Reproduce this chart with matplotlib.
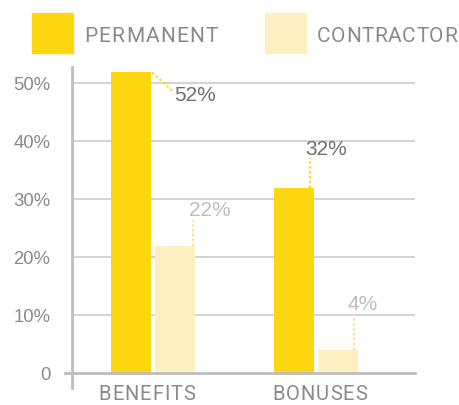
import matplotlib
matplotlib.use("Agg")
import matplotlib.pyplot as plt
import numpy as np
from matplotlib.patches import Rectangle

# ---- data ----
categories = ["BENEFITS", "BONUSES"]
series_names = ["PERMANENT", "CONTRACTOR"]
permanent = [52, 32]
contractor = [22, 4]
yticks = [0, 10, 20, 30, 40, 50]
ytick_labels = ["0", "10%", "20%", "30%", "40%", "50%"]

# ---- style ----
c_perm = "#FCD60E"
c_cont = "#FCF0C2"
c_grid = "#C8C8C8"
c_axis = "#BDBDBD"
c_tick = "#8A8A8A"
c_dark = "#707070"
c_light = "#BDBDBD"
din = ["Roboto", "DejaVu Sans"]
ari = ["Liberation Sans", "DejaVu Sans"]

fig = plt.figure(figsize=(4.6, 4.05), dpi=100)
ax = fig.add_axes([72 / 460, 17 / 405, 343 / 460, 321 / 405])
ax.set_xlim(-0.5, 1.61)
ax.set_ylim(-2.55, 52.8)
renderer = fig.canvas.get_renderer()


def char_widths(s, **kw):
    widths = []
    for ch in s:
        t = fig.text(0, 0, ch, **kw)
        widths.append(t.get_window_extent(renderer).width)
        t.remove()
    return widths


def draw_tracked(x_px, y_base_px, s, width_px, ha="left", **kw):
    """Letter-spaced text, placed in figure pixels, spread to width_px."""
    widths = char_widths(s, **kw)
    tr = (width_px - sum(widths)) / (len(s) - 1)
    start = x_px if ha == "left" else x_px - width_px / 2
    cx = start
    for ch, wd in zip(s, widths):
        fig.text(cx / 460, (405 - y_base_px) / 405, ch, ha="left", va="baseline", **kw)
        cx += wd + tr


x = np.arange(len(categories))
w = 0.246
gap = 0.0246
b1 = ax.bar(x - w / 2 - gap / 2, permanent, w, color=c_perm, zorder=3)
b2 = ax.bar(x + w / 2 + gap / 2, contractor, w, color=c_cont, zorder=3)

for t in yticks[1:]:
    ax.axhline(t, color=c_grid, lw=1.1, zorder=1)
ax.plot([-0.545, 1.61], [0, 0], color=c_axis, lw=2, zorder=4, clip_on=False)
ax.plot([-0.5, -0.5], [-2.55, 52.8], color=c_axis, lw=2, zorder=4, clip_on=False)

for s in ax.spines.values():
    s.set_visible(False)
ax.set_xticks([])
ax.set_yticks(yticks)
ax.set_yticklabels(ytick_labels, fontfamily=ari, fontsize=13.3, color=c_tick)
ax.tick_params(axis="y", length=0, pad=15.5)

# category labels (letter-spaced), centred under each group
cat_centers_px = [ax.transData.transform((xi, 0))[0] for xi in x]
cat_shift = [-6.5, 4]
cat_base = [400, 400]
cat_width = [96, 94]
for c, cx, sh, yb, wd in zip(categories, cat_centers_px, cat_shift, cat_base, cat_width):
    draw_tracked(cx + sh, yb, c, wd, ha="center", fontfamily=din, fontsize=14.5, color=c_tick)


# value labels with dotted leaders
def leader(bar, val, color_txt, line_pts, text_off, color_line):
    xr = bar.get_x() + bar.get_width()
    top = bar.get_height()
    disp = ax.transData.transform((xr, top))
    (lx0, ly0), (lx1, ly1) = line_pts
    p0 = ax.transData.inverted().transform((disp[0] + lx0, disp[1] + ly0))
    p1 = ax.transData.inverted().transform((disp[0] + lx1, disp[1] + ly1))
    ax.plot([p0[0], p1[0]], [p0[1], p1[1]], color=color_line, lw=1.6,
            ls=(0, (1, 1.2)), zorder=5, clip_on=False)
    tx, ty, ha = text_off
    pt = ax.transData.inverted().transform((disp[0] + tx, disp[1] + ty))
    ax.text(pt[0], pt[1], f"{val}%", ha=ha, va="baseline", fontfamily=ari,
            fontsize=15, color=color_txt, zorder=6)


leader(b1[0], permanent[0], c_dark, ((1, -1), (21, -19)), (23, -29, "left"), c_perm)
leader(b2[0], contractor[0], c_light, ((-2, 0), (-2, 26)), (15, 30, "center"), "#F7E28A")
leader(b1[1], permanent[1], c_dark, ((-4, 0), (-4, 30)), (12, 33, "center"), c_perm)
leader(b2[1], contractor[1], c_light, ((-4, 0), (-4, 36)), (5, 40, "center"), "#F7E28A")

# legend
leg_items = [(32, c_perm, series_names[0], 134), (265, c_cont, series_names[1], 140)]
for lx, col, name, wd in leg_items:
    fig.patches.append(Rectangle((lx / 460, (405 - 53) / 405), 41 / 460, 40 / 405,
                                 transform=fig.transFigure, color=col))
    draw_tracked(lx + 52, 42, name, wd, ha="left", fontfamily=din, fontsize=15,
                 color=c_tick)

fig.savefig("out.png", dpi=100)
